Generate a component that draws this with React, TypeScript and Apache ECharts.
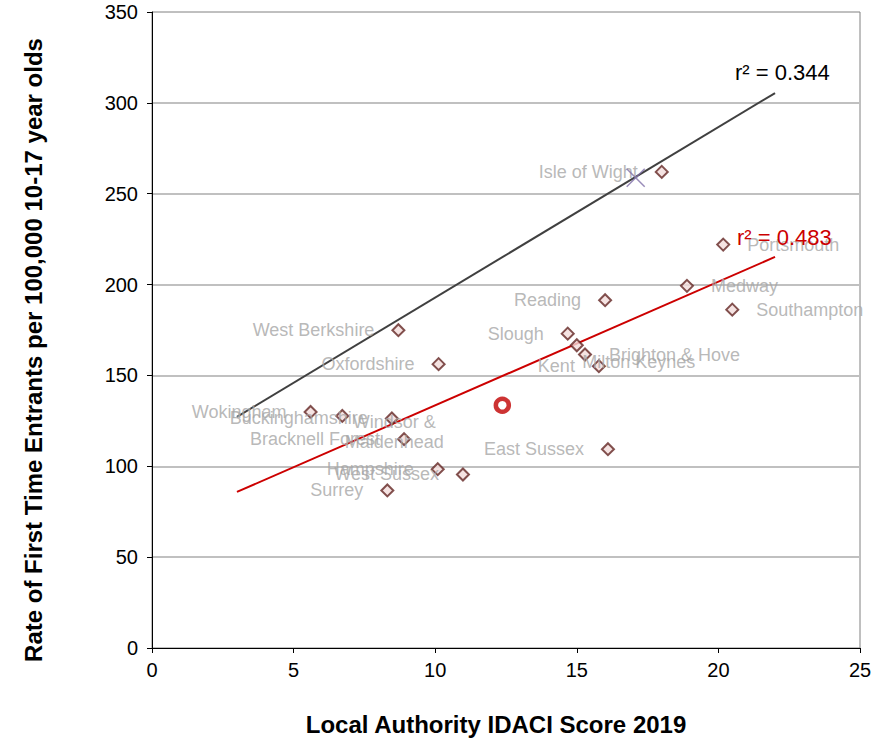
import React, { useEffect, useRef } from 'react';
import * as echarts from 'echarts';

// ---------- data ----------
const authorities = [
  'Isle of Wight', 'Portsmouth', 'Medway', 'Southampton', 'Reading', 'Slough',
  'Milton Keynes', 'Brighton & Hove', 'Kent', 'West Berkshire', 'Oxfordshire',
  'Wokingham', 'Buckinghamshire', 'Windsor & Maidenhead', 'Bracknell Forest',
  'Hampshire', 'West Sussex', 'Surrey', 'East Sussex',
];
const idaciScores = [
  18.0, 20.17, 18.89, 20.49, 16.0, 14.68,
  15.0, 15.29, 15.78, 8.7, 10.12,
  5.6, 8.47, 6.72, 8.9,
  10.09, 10.98, 8.31, 16.1,
];
const fteRates = [
  262, 222, 199.3, 186.2, 191.4, 173.0,
  166.6, 161.5, 155.1, 174.9, 156.2,
  129.9, 126.3, 127.7, 114.9,
  98.4, 95.5, 86.7, 109.4,
];
const highlightPoint = [17.08, 258.8]; // purple cross
const comparatorPoint = [12.37, 133.6]; // red ring
const blackTrendX = [3.0, 22.0];
const blackTrendY = [127.2, 305.4];
const redTrendX = [3.0, 22.0];
const redTrendY = [85.9, 215.2];
const blackR2 = 'r² = 0.344';
const redR2 = 'r² = 0.483';
const xTicks = { min: 0, max: 25, interval: 5 };
const yTicks = { min: 0, max: 350, interval: 50 };

// ---------- label placement (style only) ----------
const SYMBOL = 12;
const rightLabels = new Set(['Portsmouth', 'Medway', 'Southampton', 'Brighton & Hove']);
const customLabels: Record<string, { shift: [number, number]; text: string }> = {
  'Milton Keynes': { shift: [63, 18], text: 'Milton Keynes' },
  'Windsor & Maidenhead': { shift: [53, 17], text: 'Windsor &\nMaidenhead' },
};

const FONT = '"Liberation Sans", Arial, Helvetica, sans-serif';

export default function App() {
  const ref = useRef<HTMLDivElement>(null);

  useEffect(() => {
    if (!ref.current) return;
    const chart = echarts.init(ref.current, null, { renderer: 'svg' });

    const laData = authorities.map((name, i) => {
      const custom = customLabels[name];
      let label: any;
      if (custom) {
        label = {
          position: [SYMBOL / 2 + custom.shift[0], SYMBOL / 2 + custom.shift[1]],
          formatter: custom.text,
          align: 'center',
          verticalAlign: 'middle',
          lineHeight: 20,
        };
      } else {
        label = { position: rightLabels.has(name) ? 'right' : 'left' };
      }
      return { name, value: [idaciScores[i], fteRates[i]], label };
    });

    chart.setOption({
      animation: false,
      grid: {
        left: 152,
        right: 22,
        top: 12,
        bottom: 94,
        show: true,
        borderColor: '#808080',
        borderWidth: 1,
        backgroundColor: 'transparent',
      },
      xAxis: {
        type: 'value',
        min: xTicks.min,
        max: xTicks.max,
        interval: xTicks.interval,
        name: 'Local Authority IDACI Score 2019',
        nameLocation: 'middle',
        nameGap: 64,
        nameTextStyle: {
          fontFamily: FONT,
          fontSize: 24,
          fontWeight: 'bold',
          color: '#000',
          padding: [0, 20, 0, 0],
        },
        axisLine: { show: true, onZero: false, lineStyle: { color: '#000', width: 1 } },
        axisTick: { show: true, inside: false, length: 5, lineStyle: { color: '#000' } },
        axisLabel: { fontFamily: FONT, fontSize: 20, color: '#000', margin: 12 },
        splitLine: { show: false },
      },
      yAxis: {
        type: 'value',
        min: yTicks.min,
        max: yTicks.max,
        interval: yTicks.interval,
        name: 'Rate of First Time Entrants per 100,000 10-17 year olds',
        nameLocation: 'middle',
        nameGap: 107,
        nameTextStyle: {
          fontFamily: FONT,
          fontSize: 24,
          fontWeight: 'bold',
          color: '#000',
          padding: [0, 40, 0, 0],
        },
        axisLine: { show: true, onZero: false, lineStyle: { color: '#000', width: 1 } },
        axisTick: { show: true, inside: false, length: 5, lineStyle: { color: '#000' } },
        axisLabel: { fontFamily: FONT, fontSize: 20, color: '#000', margin: 14 },
        splitLine: {
          show: true,
          showMinLine: false,
          showMaxLine: false,
          lineStyle: { color: '#C0C0C0', width: 2 },
        },
      },
      series: [
        {
          name: 'All LAs trend',
          type: 'line',
          data: blackTrendX.map((x, i) => [x, blackTrendY[i]]),
          symbol: 'none',
          lineStyle: { color: '#404040', width: 2 },
          z: 2,
          silent: true,
        },
        {
          name: 'South East trend',
          type: 'line',
          data: redTrendX.map((x, i) => [x, redTrendY[i]]),
          symbol: 'none',
          lineStyle: { color: '#CC0000', width: 2 },
          z: 2,
          silent: true,
        },
        {
          name: 'Local authorities',
          type: 'scatter',
          data: laData,
          symbol: 'diamond',
          symbolSize: SYMBOL,
          itemStyle: { color: '#F2DCDB', borderColor: '#632523', borderWidth: 2 },
          label: {
            show: true,
            formatter: '{b}',
            fontFamily: FONT,
            fontSize: 18,
            color: '#A6A6A6',
            distance: 17,
          },
          labelLayout: { hideOverlap: false },
          z: 3,
        },
        {
          name: 'Isle of Wight highlight',
          type: 'scatter',
          data: [highlightPoint],
          symbol: 'path://M0,0L18,18M18,0L0,18',
          symbolSize: 18,
          itemStyle: { color: 'none', borderColor: '#7F6FA8', borderWidth: 1.5 },
          z: 4,
        },
        {
          name: 'Comparator',
          type: 'scatter',
          data: [comparatorPoint],
          symbol: 'circle',
          symbolSize: 13,
          itemStyle: { color: '#FFFFFF', borderColor: '#C00000', borderWidth: 4.5 },
          z: 4,
        },
      ],
      graphic: [
        {
          type: 'text',
          x: 735,
          y: 72,
          z: 10,
          style: {
            text: blackR2,
            fontFamily: FONT,
            fontSize: 22,
            fill: '#000',
            verticalAlign: 'middle',
          },
        },
        {
          type: 'text',
          x: 737,
          y: 237,
          z: 10,
          style: {
            text: redR2,
            fontFamily: FONT,
            fontSize: 22,
            fill: '#CC0000',
            verticalAlign: 'middle',
          },
        },
      ],
    });

    return () => chart.dispose();
  }, []);

  return (
    <div
      ref={ref}
      style={{ position: 'fixed', left: 0, top: 0, width: 882, height: 742, background: '#fff' }}
    />
  );
}
